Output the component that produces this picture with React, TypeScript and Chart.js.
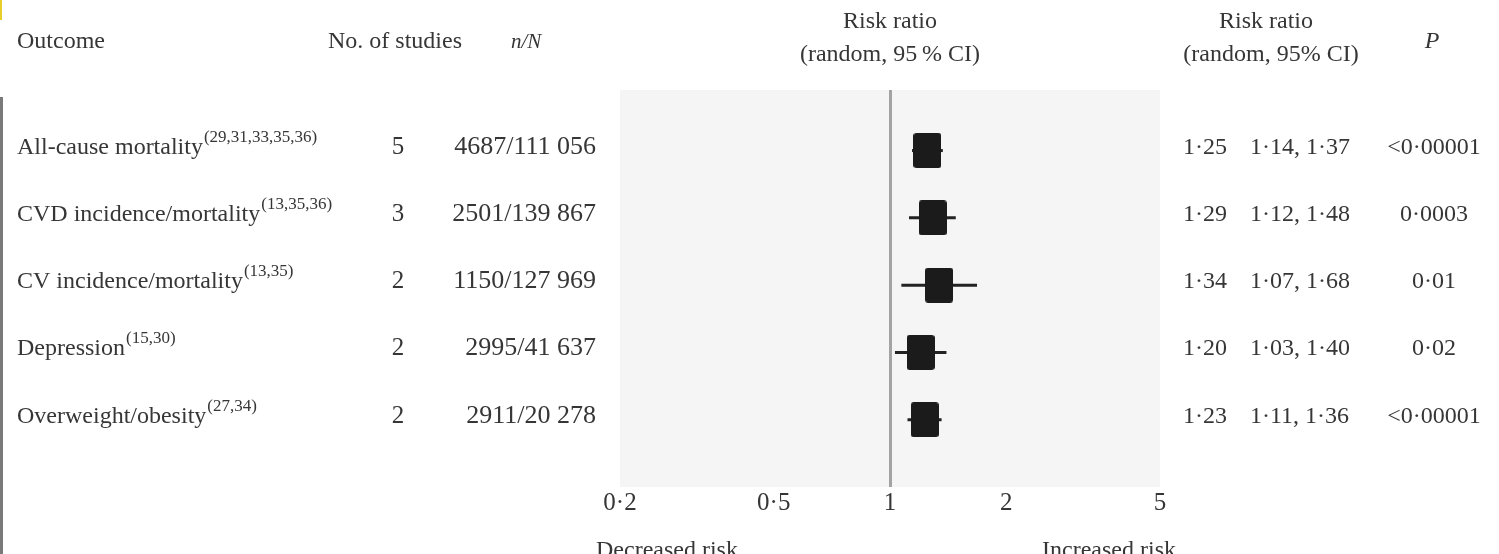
import React, { useEffect, useRef } from "react";
import { Chart, registerables } from "chart.js";

Chart.register(...registerables);

const outcomes = ["All-cause mortality", "CVD incidence/mortality", "CV incidence/mortality", "Depression", "Overweight/obesity"];
const references = ["(29,31,33,35,36)", "(13,35,36)", "(13,35)", "(15,30)", "(27,34)"];
const studyCounts = ["5", "3", "2", "2", "2"];
const eventsTotals = ["4687/111 056", "2501/139 867", "1150/127 969", "2995/41 637", "2911/20 278"];
const riskRatios = [1.25, 1.29, 1.34, 1.2, 1.23];
const lowerCI = [1.14, 1.12, 1.07, 1.03, 1.11];
const upperCI = [1.37, 1.48, 1.68, 1.4, 1.36];
const pValues = ["<0\u00b700001", "0\u00b70003", "0\u00b701", "0\u00b702", "<0\u00b700001"];
const xTickValues = [0.2, 0.5, 1, 2, 5];
const xTickLabels = ["0\u00b72", "0\u00b75", "1", "2", "5"];

const FONT = "'Liberation Serif', 'Times New Roman', serif";
const TEXT = "#363636";

const fmt = (v: number) => v.toFixed(2).replace(".", "\u00b7");

function makeSquare(): HTMLCanvasElement {
  const c = document.createElement("canvas");
  c.width = 28;
  c.height = 35;
  const g = c.getContext("2d")!;
  g.fillStyle = "#1b1b1b";
  g.beginPath();
  (g as any).roundRect ? (g as any).roundRect(0, 0, 28, 35, 3) : g.rect(0, 0, 28, 35);
  g.fill();
  return c;
}

const tablePlugin = {
  id: "forestTable",
  beforeDraw(chart: any) {
    const { ctx, chartArea } = chart;
    ctx.save();
    ctx.fillStyle = "#f5f5f5";
    ctx.fillRect(chartArea.left, chartArea.top, chartArea.right - chartArea.left, chartArea.bottom - chartArea.top);
    // scan edge decorations
    ctx.fillStyle = "#e6cf2a";
    ctx.fillRect(0, 0, 2, 20);
    ctx.fillStyle = "#7a7a7a";
    ctx.fillRect(0, 97, 3, chart.height - 97);
    ctx.restore();
  },
  afterDraw(chart: any) {
    const { ctx } = chart;
    const y = chart.scales.y;
    const x = chart.scales.x;
    ctx.save();
    ctx.fillStyle = TEXT;
    ctx.textBaseline = "alphabetic";
    const f = (size: number, italic = false) => `${italic ? "italic " : ""}${size}px ${FONT}`;

    // headers
    ctx.font = f(24);
    ctx.textAlign = "left";
    ctx.fillText("Outcome", 17, 48);
    ctx.fillText("No. of studies", 328, 48);
    ctx.font = f(21, true);
    ctx.fillText("n/N", 511, 48);
    ctx.textAlign = "center";
    ctx.font = f(24);
    const mid = x.getPixelForValue(1);
    ctx.fillText("Risk ratio", mid, 28);
    ctx.fillText("(random, 95\u2009% CI)", mid, 61);
    ctx.fillText("Risk ratio", 1266, 28);
    ctx.fillText("(random, 95% CI)", 1271, 61);
    ctx.font = f(24, true);
    ctx.fillText("P", 1432, 48);

    // rows
    outcomes.forEach((name, i) => {
      const base = y.getPixelForValue(i) + 3;
      ctx.font = f(24);
      ctx.textAlign = "left";
      ctx.fillText(name, 17, base);
      const w = ctx.measureText(name).width;
      ctx.font = f(17);
      ctx.fillText(references[i], 17 + w + 1, base - 12);
      ctx.font = f(25);
      ctx.textAlign = "center";
      ctx.fillText(studyCounts[i], 398, base);
      ctx.font = f(26);
      ctx.textAlign = "right";
      ctx.fillText(eventsTotals[i], 596, base);
      ctx.font = f(24);
      ctx.textAlign = "left";
      ctx.fillText(fmt(riskRatios[i]), 1183, base);
      ctx.fillText(`${fmt(lowerCI[i])}, ${fmt(upperCI[i])}`, 1250, base);
      ctx.textAlign = "center";
      ctx.fillText(pValues[i], 1434, base);
    });

    // axis side labels
    ctx.font = f(24);
    ctx.textAlign = "center";
    ctx.fillText("Decreased risk", 667, 557);
    ctx.fillText("Increased risk", 1109, 557);
    ctx.restore();
  },
};

export default function App() {
  const ref = useRef<HTMLCanvasElement>(null);
  useEffect(() => {
    const square = makeSquare();
    const whiskers = outcomes.map((o, i) => ({
      type: "line" as const,
      label: `${o} CI`,
      data: [
        { x: lowerCI[i], y: i },
        { x: upperCI[i], y: i },
      ],
      showLine: true,
      borderColor: "#222222",
      borderWidth: 3,
      pointRadius: 0,
      order: 2,
    }));
    const chart = new Chart(ref.current!, {
      type: "scatter",
      data: {
        datasets: [
          ...whiskers,
          {
            type: "scatter" as const,
            label: "Risk ratio",
            data: riskRatios.map((v, i) => ({ x: v, y: i })),
            pointStyle: square as any,
            pointRadius: 14,
            order: 1,
          },
        ] as any,
      },
      options: {
        animation: false,
        responsive: false,
        devicePixelRatio: 1,
        events: [],
        layout: { padding: { left: 620, right: 339, top: 90, bottom: 0 } },
        plugins: { legend: { display: false }, tooltip: { enabled: false }, title: { display: false } },
        scales: {
          x: {
            type: "logarithmic",
            min: 0.2,
            max: 5,
            afterBuildTicks: (s: any) => {
              s.ticks = xTickValues.map((v) => ({ value: v }));
            },
            afterFit: (s: any) => {
              s.height = 67;
            },
            border: { display: false },
            grid: {
              drawTicks: false,
              lineWidth: 3,
              color: (c: any) => (c.tick && c.tick.value === 1 ? "#a3a3a3" : "rgba(0,0,0,0)"),
            },
            ticks: {
              padding: 1,
              color: TEXT,
              font: { family: FONT, size: 25 },
              autoSkip: false,
              maxRotation: 0,
              callback: (v: any) => {
                const idx = xTickValues.indexOf(Number(v));
                return idx >= 0 ? xTickLabels[idx] : "";
              },
            },
          },
          y: {
            type: "linear",
            display: false,
            reverse: true,
            min: -0.9,
            max: 5,
          },
        },
      },
      plugins: [tablePlugin],
    });
    return () => chart.destroy();
  }, []);
  return (
    <div style={{ position: "absolute", left: 0, top: 0, width: 1499, height: 554, background: "#fff" }}>
      <canvas ref={ref} width={1499} height={554} style={{ display: "block" }} />
    </div>
  );
}
